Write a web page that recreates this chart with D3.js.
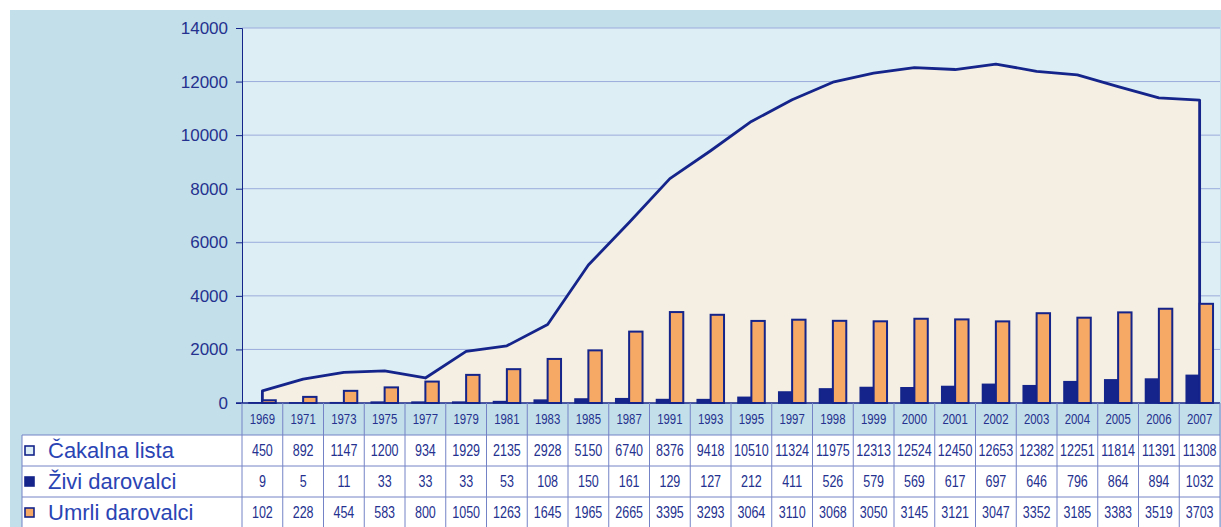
<!DOCTYPE html>
<html>
<head>
<meta charset="utf-8">
<script src="https://cdn.jsdelivr.net/npm/d3@7"></script>
<style>
  html, body { margin: 0; padding: 0; background: #ffffff; }
  svg { display: block; }
</style>
</head>
<body>
<svg id="chart" width="1221" height="527"></svg>
<script>
// Categories (years) and the three series
const years = ["1969","1971","1973","1975","1977","1979","1981","1983","1985","1987","1991","1993","1995","1997","1998","1999","2000","2001","2002","2003","2004","2005","2006","2007"];
const cakalnaLista = [450,892,1147,1200,934,1929,2135,2928,5150,6740,8376,9418,10510,11324,11975,12313,12524,12450,12653,12382,12251,11814,11391,11308];
const ziviDarovalci = [9,5,11,33,33,33,53,108,150,161,129,127,212,411,526,579,569,617,697,646,796,864,894,1032];
const umrliDarovalci = [102,228,454,583,800,1050,1263,1645,1965,2665,3395,3293,3064,3110,3068,3050,3145,3121,3047,3352,3185,3383,3519,3703];
const seriesNames = ["Čakalna lista", "Živi darovalci", "Umrli darovalci"];
const yTicks = [0,2000,4000,6000,8000,10000,12000,14000];

(function () {
const C = {
  outer: "#c3dfe9",
  plot: "#ddeef4",
  area: "#f4efe2",
  navy: "#14248a",
  orange: "#f6a865",
  grid: "#9aabdc",
  tableLine: "#7483c6",
  text: "#25318f",
  legendText: "#2a44b4"
};

const svg = d3.select("#chart");
const plotLeft = 242, plotRight = 1220, plotTop = 28, base = 403;

const x = d3.scaleBand().domain(years).range([plotLeft, plotRight]);
const y = d3.scaleLinear().domain([0, 14000]).range([base, plotTop]);
const inner = d3.scaleBand().domain(["zivi","umrli"]).range([0, x.bandwidth()]).paddingInner(0).paddingOuter(0.52);

// Backgrounds
svg.append("rect").attr("x", 10).attr("y", 10).attr("width", 1211).attr("height", 517).attr("fill", C.outer);
svg.append("rect").attr("x", plotLeft).attr("y", plotTop).attr("width", plotRight - plotLeft).attr("height", base - plotTop).attr("fill", C.plot);

// Gridlines
svg.append("g").selectAll("line").data(yTicks.filter(d => d > 0)).join("line")
  .attr("x1", plotLeft).attr("x2", plotRight)
  .attr("y1", d => y(d)).attr("y2", d => y(d))
  .attr("stroke", C.grid).attr("stroke-width", 1);

// Waiting list area
const cx = d => x(d) + x.bandwidth() / 2;
const pts = years.map((yr, i) => [cx(yr), cakalnaLista[i]]);
const outline = [[pts[0][0], 0], ...pts, [pts[pts.length - 1][0], 0]];
svg.append("path")
  .attr("d", d3.area().x(d => d[0]).y0(y(0)).y1(d => y(d[1]))(outline))
  .attr("fill", C.area);
svg.append("path")
  .attr("d", d3.line().x(d => d[0]).y(d => y(d[1]))(outline))
  .attr("fill", "none").attr("stroke", C.navy).attr("stroke-width", 2.8).attr("stroke-linejoin", "round");

// Bars
const bars = svg.append("g");
bars.selectAll("rect.zivi").data(years).join("rect")
  .attr("class", "zivi")
  .attr("x", d => x(d) + inner("zivi"))
  .attr("width", inner.bandwidth())
  .attr("y", (d, i) => y(ziviDarovalci[i]))
  .attr("height", (d, i) => y(0) - y(ziviDarovalci[i]))
  .attr("fill", C.navy).attr("stroke", C.navy).attr("stroke-width", 1.5);
bars.selectAll("rect.umrli").data(years).join("rect")
  .attr("class", "umrli")
  .attr("x", d => x(d) + inner("umrli"))
  .attr("width", inner.bandwidth())
  .attr("y", (d, i) => y(umrliDarovalci[i]))
  .attr("height", (d, i) => y(0) - y(umrliDarovalci[i]))
  .attr("fill", C.orange).attr("stroke", C.navy).attr("stroke-width", 2);

// Baseline
svg.append("line").attr("x1", plotLeft - 6).attr("x2", plotRight).attr("y1", base).attr("y2", base)
  .attr("stroke", C.navy).attr("stroke-width", 1.5);

// Y axis
const yAxis = svg.append("g").attr("transform", `translate(${plotLeft},0)`)
  .call(d3.axisLeft(y).tickValues(yTicks).tickSize(6).tickPadding(8).tickFormat(d3.format("d")));
yAxis.select(".domain").attr("stroke", C.navy).attr("stroke-width", 1);
yAxis.selectAll(".tick line").attr("stroke", C.navy);
yAxis.selectAll(".tick text")
  .attr("fill", C.text).attr("font-family", "Liberation Sans, Arial, sans-serif").attr("font-size", 17);

// Data table
const rowTop = [403, 435, 466, 497, 528];
const tbl = svg.append("g");
tbl.append("rect").attr("x", 22).attr("y", rowTop[1]).attr("width", plotRight - 22).attr("height", rowTop[4] - rowTop[1]).attr("fill", "#ffffff");
tbl.selectAll("line.h").data([rowTop[1], rowTop[2], rowTop[3]]).join("line")
  .attr("x1", 22).attr("x2", plotRight).attr("y1", d => d).attr("y2", d => d)
  .attr("stroke", C.tableLine).attr("stroke-width", 1);
tbl.selectAll("line.v").data(years.map(d => x(d)).concat([plotRight])).join("line")
  .attr("x1", d => d).attr("x2", d => d).attr("y1", base).attr("y2", 527)
  .attr("stroke", C.tableLine).attr("stroke-width", 1);
tbl.append("line").attr("x1", 22).attr("x2", 22).attr("y1", rowTop[1]).attr("y2", 527)
  .attr("stroke", C.tableLine).attr("stroke-width", 1);

// Condensed cell text: regular sans squeezed horizontally
const cellFont = "Liberation Sans, Arial, sans-serif";
tbl.selectAll("text.yr").data(years).join("text")
  .attr("transform", d => `translate(${cx(d)},424) scale(0.76,1)`)
  .attr("text-anchor", "middle").attr("font-family", cellFont).attr("font-size", 15)
  .attr("fill", C.text).text(d => d);

const rows = [cakalnaLista, ziviDarovalci, umrliDarovalci];
const fills = [C.plot, C.navy, C.orange];
rows.forEach((vals, r) => {
  const mid = (rowTop[r + 1] + rowTop[r + 2]) / 2;
  tbl.append("g").selectAll("text").data(vals).join("text")
    .attr("transform", (d, i) => `translate(${cx(years[i])},${mid + 5.8}) scale(0.76,1)`)
    .attr("text-anchor", "middle").attr("font-family", cellFont).attr("font-size", 16.5)
    .attr("fill", C.text).text(d => d);
  tbl.append("text").attr("x", 48).attr("y", mid + 7.5)
    .attr("font-family", "Liberation Sans, Arial, sans-serif").attr("font-size", 22)
    .attr("fill", C.legendText).text(seriesNames[r]);
  tbl.append("rect").attr("x", 25).attr("y", mid - 4.5).attr("width", 9).attr("height", 9)
    .attr("fill", fills[r]).attr("stroke", C.navy).attr("stroke-width", 1.6);
});
})();
</script>
</body>
</html>
